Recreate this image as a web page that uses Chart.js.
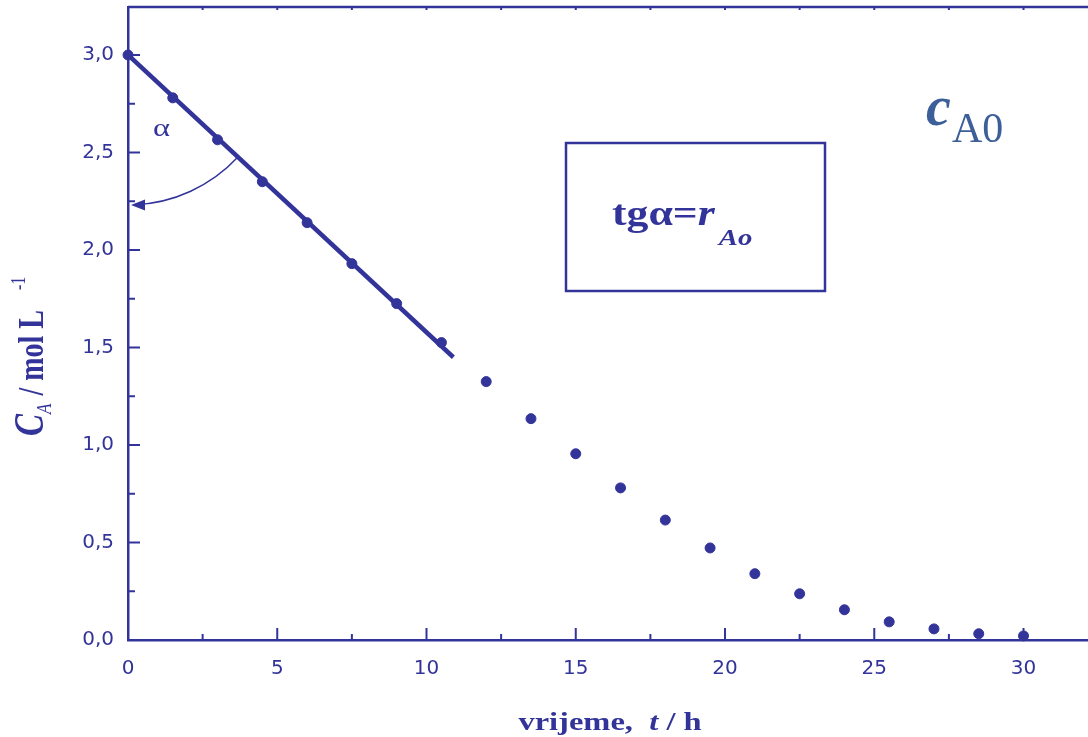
<!DOCTYPE html>
<html>
<head>
<meta charset="utf-8">
<script src="https://cdn.jsdelivr.net/npm/chart.js@4/dist/chart.umd.min.js"></script>
<style>
  html, body { margin: 0; padding: 0; background: #fff; }
  #wrap { width: 1088px; height: 737px; }
</style>
</head>
<body>
<div id="wrap"><canvas id="kinetika" width="1088" height="737"></canvas></div>
<script>
// mjerenja: vrijeme (h) i koncentracija A (mol/L)
const vrijeme = [0, 1.5, 3, 4.5, 6, 7.5, 9, 10.5, 12, 13.5, 15, 16.5, 18, 19.5, 21, 22.5, 24, 25.5, 27, 28.5, 30];
const koncentracija = [3.0, 2.78, 2.565, 2.35, 2.14, 1.93, 1.725, 1.525, 1.325, 1.135, 0.955, 0.78, 0.615, 0.472, 0.34, 0.237, 0.155, 0.093, 0.057, 0.032, 0.021];

// tangenta u t = 0 (pocetna brzina)
const pravacT = [0, 10.9];
const pravacC = [3.0, 1.45];

const xTicks = [0, 5, 10, 15, 20, 25, 30];
const xTickLabels = ["0", "5", "10", "15", "20", "25", "30"];
const yTicks = [0, 0.5, 1.0, 1.5, 2.0, 2.5, 3.0];
const yTickLabels = ["0,0", "0,5", "1,0", "1,5", "2,0", "2,5", "3,0"];

const boja = "#33349a";
const plava = "#3c5f99";
const SX = 1.25; // tekst je malo razvucen vodoravno

// crta niz komada teksta (razliciti fontovi, indeksi) jedan za drugim
function crtajTekst(ctx, dijelovi, sx, sy) {
  let x = 0;
  for (const d of dijelovi) {
    ctx.font = d.font;
    ctx.save();
    ctx.scale(sx, sy);
    ctx.fillText(d.t, x / sx, (d.dy || 0) / sy);
    ctx.restore();
    x += ctx.measureText(d.t).width * sx + (d.gap || 0);
  }
  return x;
}
function sirina(ctx, dijelovi, sx) {
  let w = 0;
  for (const d of dijelovi) {
    ctx.font = d.font;
    w += ctx.measureText(d.t).width * sx + (d.gap || 0);
  }
  return w;
}

// okvir i crtice okrenute prema unutra
const okvir = {
  id: "okvir",
  beforeDatasetsDraw(chart) {
    const { ctx, chartArea: a, scales: { x, y } } = chart;
    ctx.save();
    ctx.strokeStyle = boja;
    ctx.lineWidth = 2.5;
    ctx.beginPath();
    ctx.moveTo(a.left, a.top);
    ctx.lineTo(a.right, a.top);
    ctx.stroke();

    ctx.lineWidth = 2;
    ctx.beginPath();
    for (let v = 0; v <= x.max; v += 2.5) {
      const px = x.getPixelForValue(v);
      const len = v % 5 === 0 ? 12 : 6;
      ctx.moveTo(px, a.bottom);
      ctx.lineTo(px, a.bottom - len);
      ctx.moveTo(px, a.top);
      ctx.lineTo(px, a.top + 3);
    }
    for (let v = 0; v <= y.max; v += 0.25) {
      const py = y.getPixelForValue(v);
      const len = Math.abs(v * 2 - Math.round(v * 2)) < 1e-6 ? 12 : 7;
      ctx.moveTo(a.left, py);
      ctx.lineTo(a.left + len, py);
    }
    ctx.stroke();
    ctx.restore();
  },
  afterDraw(chart) {
    const { ctx, scales: { x, y } } = chart;
    ctx.save();
    ctx.fillStyle = boja;
    ctx.textBaseline = "alphabetic";

    // naziv osi x
    const xNaziv = [
      { t: "vrijeme,  ", font: "bold 26px 'Liberation Serif'" },
      { t: "t", font: "italic bold 26px 'Liberation Serif'" },
      { t: " / h", font: "bold 26px 'Liberation Serif'" }
    ];
    ctx.save();
    ctx.translate(610 - sirina(ctx, xNaziv, SX) / 2, 730);
    crtajTekst(ctx, xNaziv, SX, 1);
    ctx.restore();

    // naziv osi y (okrenut)
    const yNaziv = [
      { t: "C", font: "italic bold 33px 'Liberation Serif'" },
      { t: "A", font: "italic 17px 'Liberation Serif'", dy: 8, gap: 8 },
      { t: "/ mol L", font: "bold 28px 'Liberation Serif'", gap: 20 },
      { t: "-1", font: "16px 'Liberation Serif'", dy: -18 }
    ];
    ctx.save();
    ctx.translate(43, 436);
    ctx.rotate(-Math.PI / 2);
    crtajTekst(ctx, yNaziv, 1, SX);
    ctx.restore();

    // kut alfa izmedu osi i tangente
    const cx = x.getPixelForValue(pravacT[0]);
    const cy = y.getPixelForValue(pravacC[0]);
    const kraj = Math.atan2(
      y.getPixelForValue(pravacC[1]) - cy,
      x.getPixelForValue(pravacT[1]) - cx
    );
    const r = 150;
    ctx.strokeStyle = boja;
    ctx.lineWidth = 1.5;
    ctx.beginPath();
    ctx.arc(cx, cy, r, kraj, Math.PI / 2 - 0.04);
    ctx.stroke();
    ctx.beginPath();
    ctx.moveTo(cx + 3, cy + r);
    ctx.lineTo(cx + 17, cy + r - 5.5);
    ctx.lineTo(cx + 17, cy + r + 5.5);
    ctx.closePath();
    ctx.fill();

    ctx.save();
    ctx.translate(153, 136);
    crtajTekst(ctx, [{ t: "\u03b1", font: "26px 'Liberation Serif'" }], SX, 1);
    ctx.restore();

    // okvir s izrazom za pocetnu brzinu
    ctx.lineWidth = 2.5;
    ctx.strokeRect(566, 143, 259, 148);
    ctx.save();
    ctx.translate(612, 225);
    crtajTekst(ctx, [
      { t: "tg\u03b1=", font: "bold 35px 'Liberation Serif'" },
      { t: "r", font: "italic bold 35px 'Liberation Serif'", gap: 4 },
      { t: "Ao", font: "italic bold 23px 'Liberation Serif'", dy: 20 }
    ], SX, 1);
    ctx.restore();

    // oznaka c_A0
    ctx.fillStyle = plava;
    ctx.save();
    ctx.translate(926, 125);
    crtajTekst(ctx, [{ t: "c", font: "italic bold 56px 'Liberation Serif'" }], 1, 1);
    ctx.restore();
    ctx.font = "42px 'Liberation Serif'";
    ctx.fillText("A0", 952, 142);

    ctx.restore();
  }
};

const ctx = document.getElementById("kinetika").getContext("2d");
const chart = new Chart(ctx, {
  type: "scatter",
  data: {
    datasets: [
      {
        label: "cA",
        data: vrijeme.map((t, i) => ({ x: t, y: koncentracija[i] })),
        backgroundColor: boja,
        borderColor: boja,
        borderWidth: 1,
        pointRadius: 5,
        pointHoverRadius: 5,
        clip: false
      },
      {
        label: "tangenta",
        type: "line",
        data: pravacT.map((t, i) => ({ x: t, y: pravacC[i] })),
        borderColor: boja,
        borderWidth: 4.5,
        pointRadius: 0,
        fill: false,
        clip: false
      }
    ]
  },
  options: {
    responsive: false,
    devicePixelRatio: 1,
    animation: false,
    layout: { autoPadding: false, padding: { top: 7, right: 0, left: 0, bottom: 0 } },
    plugins: {
      legend: { display: false },
      tooltip: { enabled: false }
    },
    scales: {
      x: {
        type: "linear",
        min: 0,
        max: 32.16,
        afterBuildTicks: (s) => { s.ticks = xTicks.map(v => ({ value: v })); },
        afterFit: (s) => { s.height = 97; s.paddingLeft = 0; s.paddingRight = 0; },
        ticks: {
          color: boja,
          font: { family: "'DejaVu Sans'", size: 20 },
          padding: 17,
          maxRotation: 0,
          autoSkip: false,
          callback: (v, i) => xTickLabels[i]
        },
        grid: { display: true, drawOnChartArea: false, drawTicks: false },
        border: { display: true, color: boja, width: 2.5 }
      },
      y: {
        type: "linear",
        min: 0,
        max: 3.246,
        afterBuildTicks: (s) => { s.ticks = yTicks.map(v => ({ value: v })); },
        afterFit: (s) => { s.width = 128; s.paddingTop = 0; s.paddingBottom = 0; },
        ticks: {
          color: boja,
          font: { family: "'DejaVu Sans'", size: 20 },
          padding: 14,
          autoSkip: false,
          callback: (v, i) => yTickLabels[i]
        },
        grid: { display: true, drawOnChartArea: false, drawTicks: false },
        border: { display: true, color: boja, width: 2.5 }
      }
    }
  },
  plugins: [okvir]
});
</script>
</body>
</html>
